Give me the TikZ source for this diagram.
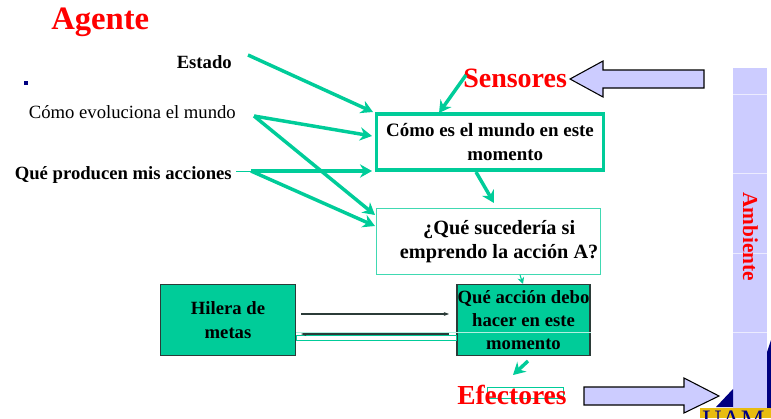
\documentclass[tikz,border=0pt]{standalone}
\usepackage{fontspec}
\setmainfont{Liberation Serif}
\usetikzlibrary{arrows.meta}
\definecolor{greenColour}{HTML}{00CC99}
\definecolor{paleColour}{HTML}{CCCCFF}
\definecolor{navyColour}{HTML}{000080}
\definecolor{borderColour}{HTML}{2B3B38}
\definecolor{logoColour}{HTML}{E8BC10}
\tikzset{
  thickarrow/.style={draw=greenColour, line width=2.6pt, -{Stealth[length=9pt,width=10pt]}},
  thinarrow/.style={draw=borderColour, line width=0.8pt, -{Stealth[length=4pt,width=3pt]}},
  label/.style={font=\fontsize{14}{16}\selectfont\bfseries, inner sep=0pt, anchor=base east},
  title/.style={text=red, inner sep=0pt, anchor=base west},
  boxtext/.style={font=\fontsize{14}{17.5}\selectfont\bfseries, inner sep=0pt, align=center},
  blockarrow/.style={fill=paleColour, draw=black, line width=0.8pt, line join=miter}
}
\begin{document}
\begin{tikzpicture}[x=0.75pt, y=-0.75pt]
    \useasboundingbox (0,0) rectangle (771,418);

    % Ambiente strip and corner pieces
    \fill[paleColour] (733,68) rectangle (767,408);
    \foreach \y in {94,173,253,332}
        \draw[white!60!paleColour, line width=0.3pt] (733,\y) -- (767,\y);
    \fill[navyColour] (716,407) -- (733,389) -- (733,407) -- cycle;
    \fill[navyColour] (767,352) -- (771,340) -- (771,408) -- (767,408) -- cycle;
    \fill[logoColour] (700,408) rectangle (771,418);
    \begin{scope}
        \clip (700,408) rectangle (771,418);
        \node[font=\fontsize{20}{20}\selectfont, text=navyColour, inner sep=0pt, anchor=base west] (logo) at (702,428) {UAM};
    \end{scope}
    \fill[navyColour] (24,81) rectangle (28,85);

    % Titles
    \node[title, font=\fontsize{24.5}{24.5}\selectfont\bfseries] (agente) at (51,29) {Agente};
    \node[title, font=\fontsize{21}{21}\selectfont\bfseries] (sensores) at (463,87) {Sensores};
    \draw[greenColour, line width=0.6pt] (487,387) rectangle (563,398);
    \node[title, font=\fontsize{20.6}{20.6}\selectfont\bfseries] (efectores) at (457,404) {Efectores};
    \node[title, font=\fontsize{16}{16}\selectfont\bfseries, rotate=-90] (ambiente) at (743,192) {Ambiente};

    % Labels on the left
    \node[label] (estado) at (232,68) {Estado};
    \node[label, font=\fontsize{14}{16}\selectfont] (evoluciona) at (236,118) {Cómo evoluciona el mundo};
    \node[label] (acciones) at (232,179) {Qué producen mis acciones};

    % Boxes
    \node[boxtext, font=\fontsize{14.2}{17.5}\selectfont\bfseries, draw=greenColour, line width=2.4pt, fill=white, minimum width=170pt, minimum height=42pt, align=left] (mundo) at (490,142)
        {Cómo es el mundo en este\\\hspace*{61pt}momento};
    \node[boxtext, font=\fontsize{15.2}{18}\selectfont\bfseries, draw=greenColour!75, line width=0.9pt, fill=white, minimum width=168pt, minimum height=50pt] (sucederia) at (488.5,241.5)
        {\hspace*{16pt}¿Qué sucedería si\\\hspace*{16pt}emprendo la acción A?};
    \node[boxtext, draw=borderColour, line width=1.2pt, fill=greenColour, minimum width=101pt, minimum height=53pt] (metas) at (228,320)
        {Hilera de\\metas};
    \node[boxtext, draw=borderColour, line width=1.2pt, fill=greenColour, minimum width=100pt, minimum height=53pt] (accion) at (523.5,320)
        {Qué acción debo\\hacer en este\\momento};

    % Free ends
    \coordinate (estadoEnd) at (248,55);
    \coordinate (evolucionaEnd) at (254,116);
    \coordinate (accionesEnd) at (251,171);
    \coordinate (accionesStart) at (236,171);
    \coordinate (sensoresEnd) at (466,75);
    \coordinate (efectoresEnd) at (513,375);

    % Green arrows
    \draw[thickarrow] (estadoEnd) -- (373,112);
    \draw[thickarrow] (evolucionaEnd) -- (372,136);
    \draw[thickarrow] (evolucionaEnd) -- (375,215);
    \draw[thickarrow] (accionesEnd) -- (372,171);
    \draw[greenColour, line width=0.6pt] (accionesStart) -- (accionesEnd);
    \draw[thickarrow] (accionesEnd) -- (375,226);
    \draw[thickarrow] (sensoresEnd) -- (439,113);
    \draw[thickarrow] (476,172) -- (494,203);
    \draw[greenColour, line width=0.8pt, -{Stealth[length=5pt,width=5pt]}] (520,275) -- (523,284);
    \draw[thickarrow] (528,361) -- (efectoresEnd);

    % Between the two filled boxes
    \draw[thinarrow] (301,314) -- (449,314);
    \draw[greenColour, line width=0.7pt] (296,335.5) rectangle (456,340);
    \draw[thinarrow] (449,334) -- (301,334);
    \draw[white!70!greenColour, line width=0.2pt] (296,332) -- (591,332);

    % Block arrows
    \draw[blockarrow] (570,79) -- (603,61) -- (603,70) -- (704,70) -- (704,88) -- (603,88) -- (603,97) -- cycle;
    \draw[blockarrow] (719,396) -- (684,378) -- (684,387) -- (584,387) -- (584,405) -- (684,405) -- (684,413) -- cycle;
\end{tikzpicture}
\end{document}
